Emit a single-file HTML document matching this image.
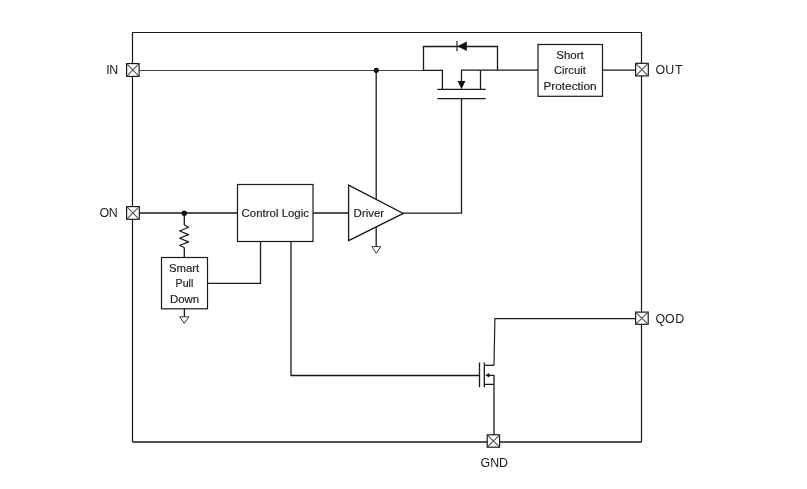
<!DOCTYPE html>
<html><head><meta charset="utf-8">
<style>
html,body{margin:0;padding:0;background:#fff;width:807px;height:489px;overflow:hidden}
svg{display:block;will-change:transform}
text{font-family:"Liberation Sans",sans-serif}
.lab{font-size:12.4px;fill:#1a1a1a}
.box{font-size:11px;fill:#222;stroke:#222;stroke-width:0.18}
</style></head><body>
<svg width="807" height="489" viewBox="0 0 807 489">
<g fill="none" stroke="#1a1a1a" stroke-width="1.3" stroke-linecap="butt" stroke-linejoin="miter">
<!-- frame -->
<path d="M132.5 442V32.5H641.5V442" stroke-width="1.2"/><path d="M132.5 442H641.5"/>
<!-- IN line -->
<path d="M139 70.5H423" stroke="#454545" stroke-width="1.1"/><path d="M423 70.4H442.4V89.4"/>
<!-- IN dot vertical -->
<path d="M376.2 70.4V199"/>
<!-- diode bypass -->
<path d="M423.5 70.4V46.5H497.5V70.1"/>
<!-- source line + right to SCP -->
<path d="M461.5 81V70.1H538"/>
<path d="M480.5 70.4V89.4"/>
<!-- channel & gate plates -->
<path d="M437.4 89.4H485.7M437.4 98.6H485.7"/>
<!-- gate -->
<path d="M461.5 98.6V213.2H403.3"/>
<!-- SCP box -->
<rect x="538" y="44.5" width="64.5" height="51.8" stroke-width="1.2"/>
<path d="M602.5 70.2H635.5"/>
<!-- ON line -->
<path d="M139 213H237.5"/>
<!-- resistor -->
<path d="M184.3 213V225"/><path d="M184.3 257.5V247.5"/><path d="M184.3 225L188.6 227.2L179.6 231L188.6 234.6L179.6 238.2L188.6 241.9L179.6 245.5L184.3 247.5" stroke-width="1.15" stroke-linejoin="round"/>
<!-- SPD box -->
<rect x="161.5" y="257.5" width="46" height="51.3" stroke-width="1.2"/>
<path d="M184.4 308.8V316.6"/>
<!-- CL box -->
<rect x="237.5" y="184.5" width="75.5" height="57" stroke-width="1.2"/>
<path d="M313 213H348.6"/>
<!-- driver -->
<path d="M348.6 185.1V240.6L403.3 213.4Z"/>
<path d="M376.2 227V246.4"/>
<!-- CL bottom lines -->
<path d="M260.5 241.5V283.4H207.5"/>
<path d="M291 241.5V375.5H479.5"/>
<!-- lower mosfet -->
<path d="M479.5 362.5V387.3M484.3 362.5V387.3"/>
<path d="M484.3 365.3H494"/><path d="M494 365.3L494.9 318.6" stroke-width="1.15"/><path d="M494.4 318.6H636"/>
<path d="M488.4 375.3H494V435M484.3 384.4H494"/>
</g>
<!-- thin ground triangles -->
<g fill="none" stroke="#333" stroke-width="1">
<path d="M179.7 316.8H188.9L184.3 323.4Z"/>
<path d="M371.9 246.6H380.7L376.3 253.4Z"/>
</g>
<!-- filled shapes -->
<g fill="#111" stroke="none">
<circle cx="376.3" cy="70.3" r="2.6"/>
<circle cx="184.3" cy="213.3" r="2.7"/>
<path d="M457.4 46.2L466.8 41.5V50.9Z"/>
<path d="M457.6 81H465.4L461.5 89.2Z"/>
<path d="M485.2 375.3L489.4 372.9V377.5Z"/>
</g>
<path d="M457 41.1V51.3" stroke="#333" stroke-width="1.3"/>
<!-- terminals -->
<g fill="#fff" stroke="#111" stroke-width="1.15">
<rect x="126.6" y="63.6" width="12.5" height="12.8"/>
<rect x="126.6" y="206.6" width="12.7" height="12.7"/>
<rect x="635.6" y="63.3" width="12.7" height="12.6"/>
<rect x="635.6" y="312.1" width="12.6" height="12.2"/>
<rect x="487.2" y="434.8" width="12.4" height="12.4"/>
</g>
<g stroke="#505050" stroke-width="1.1">
<path d="M126.6 63.6L139.1 76.4M139.1 63.6L126.6 76.4"/>
<path d="M126.6 206.6L139.3 219.3M139.3 206.6L126.6 219.3"/>
<path d="M635.6 63.3L648.3 75.9M648.3 63.3L635.6 75.9"/>
<path d="M635.6 312.1L648.2 324.3M648.2 312.1L635.6 324.3"/>
<path d="M487.2 434.8L499.6 447.2M499.6 434.8L487.2 447.2"/>
</g>
<!-- labels -->
<text class="lab" x="106.3 109.15" y="74">IN</text>
<text class="lab" x="99.4 108.85" y="216.6">ON</text>
<text class="lab" x="655.5 665.15 674.9" y="74.3">OUT</text>
<text class="lab" x="655.4 665.05 675.2" y="322.7">QOD</text>
<text class="lab" x="480.5" y="467.2">GND</text>
<!-- box texts -->
<text class="box" x="241.6" y="217.2" textLength="67.4" lengthAdjust="spacingAndGlyphs">Control Logic</text>
<text class="box" x="353.6" y="216.8" textLength="30.6" lengthAdjust="spacingAndGlyphs" style="font-size:11.5px">Driver</text>
<text class="box" x="556.3" y="58.9" textLength="27.4" lengthAdjust="spacingAndGlyphs">Short</text>
<text class="box" x="554" y="73.8" textLength="31.8" lengthAdjust="spacingAndGlyphs">Circuit</text>
<text class="box" x="543.5" y="89.5" textLength="53" lengthAdjust="spacingAndGlyphs">Protection</text>
<text class="box" x="169" y="272.2" textLength="30.2" lengthAdjust="spacingAndGlyphs">Smart</text>
<text class="box" x="175.6" y="287" textLength="17.7" lengthAdjust="spacingAndGlyphs">Pull</text>
<text class="box" x="170" y="302.6" textLength="29.2" lengthAdjust="spacingAndGlyphs">Down</text>
</svg>
</body></html>
